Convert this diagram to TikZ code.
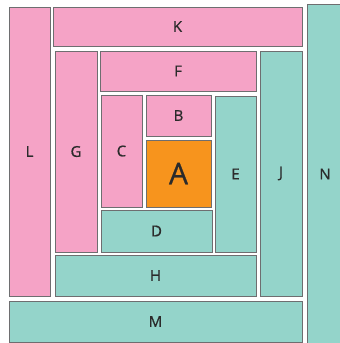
\documentclass[tikz,border=0pt]{standalone}
\usepackage{fontspec}
\setmainfont{Open Sans}
\newfontfamily\lblfont{Open Sans}[FakeBold=0.8]
\definecolor{pinkc}{HTML}{F5A3C6}
\definecolor{tealc}{HTML}{94D4CA}
\definecolor{orangec}{HTML}{F7941D}
\definecolor{edgec}{HTML}{6E6E70}
\definecolor{txtc}{HTML}{2B2B2B}
\tikzset{
  blk/.style={draw=edgec, line width=0.8pt, inner sep=0pt, text=txtc, font=\lblfont\fontsize{15}{15}\selectfont},
  pinkbox/.style={blk, fill=pinkc},
  tealbox/.style={blk, fill=tealc},
  orangebox/.style={blk, fill=orangec, font=\lblfont\fontsize{30}{30}\selectfont},
}
\begin{document}
\begin{tikzpicture}[x=1pt,y=-1pt]
\useasboundingbox (0,0) rectangle (340,343);
\clip (0,0) rectangle (340,343);
\fill[white] (0,0) rectangle (340,343);
\node[pinkbox, minimum width=41pt, minimum height=289pt] (L) at (29.5,151.5) {L};
\node[pinkbox, minimum width=249pt, minimum height=39pt] (K) at (177.5,26.5) {K};
\node[pinkbox, minimum width=42pt, minimum height=201pt] (G) at (76,151.5) {G};
\node[pinkbox, minimum width=156pt, minimum height=40pt] (F) at (178,71) {F};
\node[pinkbox, minimum width=41pt, minimum height=112pt] (C) at (121.5,151) {C};
\node[pinkbox, minimum width=65pt, minimum height=41pt] (B) at (178.5,115.5) {B};
\node[orangebox, minimum width=65pt, minimum height=67pt] (A) at (178.5,173.5) {A};
\node[tealbox, minimum width=111pt, minimum height=42pt] (D) at (156.5,231) {D};
\node[tealbox, minimum width=41pt, minimum height=156pt] (E) at (235.5,174) {E};
\node[tealbox, minimum width=42pt, minimum height=245pt] (J) at (281,173.5) {J};
\node[tealbox, minimum width=201pt, minimum height=41pt] (H) at (155.5,275.5) {H};
\node[tealbox, minimum width=293pt, minimum height=41pt] (M) at (155.5,321.5) {M};
\node[tealbox, minimum width=38pt, minimum height=341pt] (N) at (326,174.5) {};
\node[text=txtc, font=\lblfont\fontsize{15}{15}\selectfont] (Nl) at (325,174) {N};
\end{tikzpicture}
\end{document}
